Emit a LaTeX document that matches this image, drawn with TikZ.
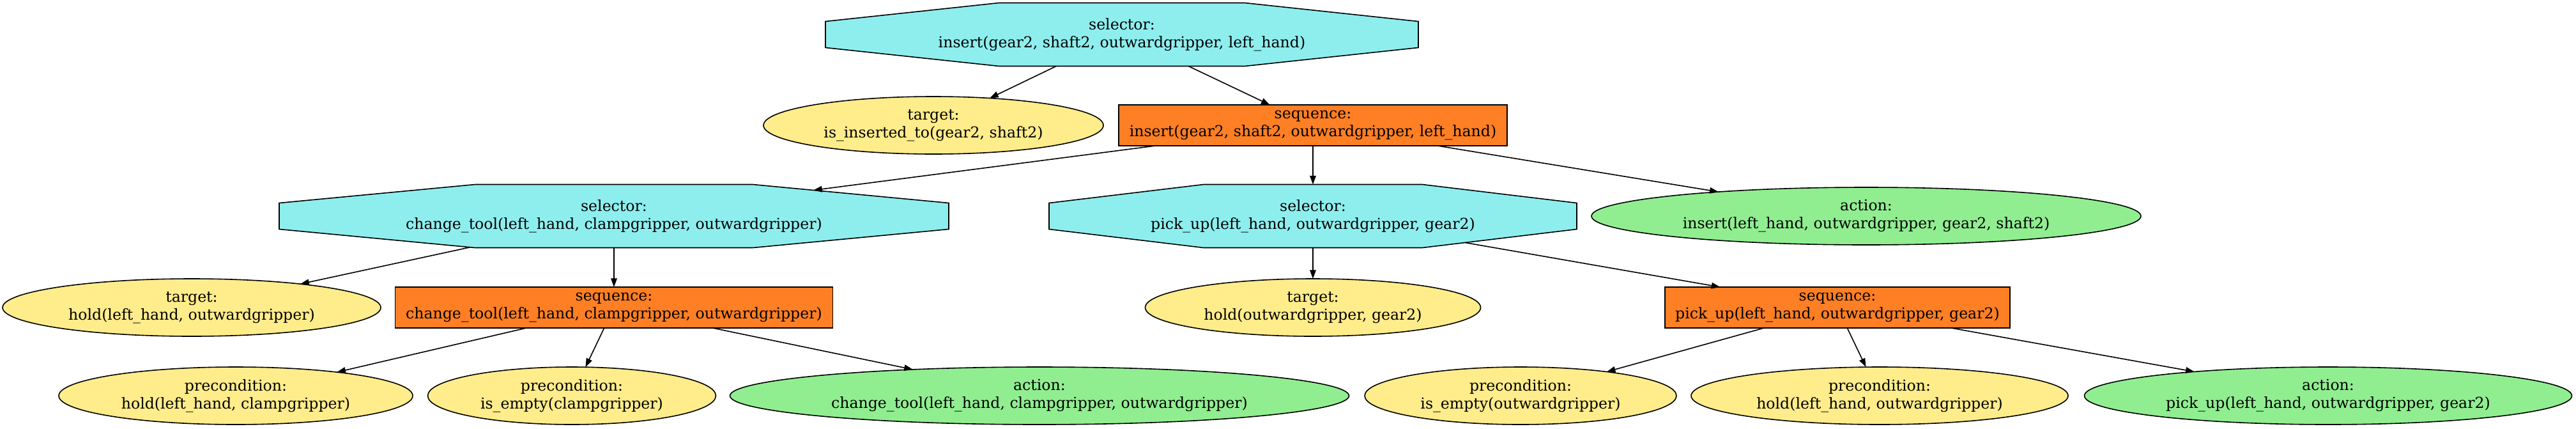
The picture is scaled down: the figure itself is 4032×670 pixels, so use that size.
\documentclass[tikz,border=0pt]{standalone}
\usepackage{fontspec}
\setmainfont{DejaVu Serif}
\usetikzlibrary{shapes.geometric,arrows.meta}
\definecolor{selcyan}{HTML}{8EEEEE}
\definecolor{seqorange}{HTML}{FF7F24}
\definecolor{condyellow}{HTML}{FFEC8B}
\definecolor{actgreen}{HTML}{90EE90}

% octagon stretched to the node box, corners cut at 0.2929 of width and height
\makeatletter
\pgfdeclareshape{stretched octagon}{%
  \inheritsavedanchors[from=rectangle]%
  \inheritanchor[from=rectangle]{center}%
  \inheritanchor[from=rectangle]{north}%
  \inheritanchor[from=rectangle]{south}%
  \inheritanchor[from=rectangle]{east}%
  \inheritanchor[from=rectangle]{west}%
  \inheritanchor[from=rectangle]{mid}%
  \inheritanchor[from=rectangle]{base}%
  \anchorborder{%
    \edef\oct@dx{\the\pgf@x}\edef\oct@dy{\the\pgf@y}%
    \southwest\edef\oct@swx{\the\pgf@x}\edef\oct@swy{\the\pgf@y}%
    \northeast\edef\oct@nex{\the\pgf@x}\edef\oct@ney{\the\pgf@y}%
    \pgfmathsetmacro\oct@a{(\oct@nex-\oct@swx)/2}%
    \pgfmathsetmacro\oct@b{(\oct@ney-\oct@swy)/2}%
    \pgfmathsetmacro\oct@ux{abs(\oct@dx)/\oct@a}%
    \pgfmathsetmacro\oct@uy{abs(\oct@dy)/\oct@b}%
    \pgfmathsetmacro\oct@s{max(max(\oct@ux,\oct@uy),(\oct@ux+\oct@uy)/1.41421,0.0001)}%
    \pgfmathsetmacro\oct@px{\oct@dx/\oct@s+(\oct@nex+\oct@swx)/2}%
    \pgfmathsetmacro\oct@py{\oct@dy/\oct@s+(\oct@ney+\oct@swy)/2}%
    \pgf@x=\oct@px pt\relax
    \pgf@y=\oct@py pt\relax
  }%
  \backgroundpath{%
    \southwest\pgf@xa=\pgf@x\pgf@ya=\pgf@y
    \northeast\pgf@xb=\pgf@x\pgf@yb=\pgf@y
    \pgf@xc=\pgf@xb\advance\pgf@xc by-\pgf@xa\pgf@xc=0.29289\pgf@xc
    \pgf@yc=\pgf@yb\advance\pgf@yc by-\pgf@ya\pgf@yc=0.29289\pgf@yc
    \edef\oct@xi{\the\pgf@xa}\edef\oct@xiv{\the\pgf@xb}%
    \edef\oct@yi{\the\pgf@ya}\edef\oct@yiv{\the\pgf@yb}%
    \advance\pgf@xa by\pgf@xc\edef\oct@xii{\the\pgf@xa}%
    \advance\pgf@xb by-\pgf@xc\edef\oct@xiii{\the\pgf@xb}%
    \advance\pgf@ya by\pgf@yc\edef\oct@yii{\the\pgf@ya}%
    \advance\pgf@yb by-\pgf@yc\edef\oct@yiii{\the\pgf@yb}%
    \pgfpathmoveto{\pgfqpoint{\oct@xi}{\oct@yii}}%
    \pgfpathlineto{\pgfqpoint{\oct@xi}{\oct@yiii}}%
    \pgfpathlineto{\pgfqpoint{\oct@xii}{\oct@yiv}}%
    \pgfpathlineto{\pgfqpoint{\oct@xiii}{\oct@yiv}}%
    \pgfpathlineto{\pgfqpoint{\oct@xiv}{\oct@yiii}}%
    \pgfpathlineto{\pgfqpoint{\oct@xiv}{\oct@yii}}%
    \pgfpathlineto{\pgfqpoint{\oct@xiii}{\oct@yi}}%
    \pgfpathlineto{\pgfqpoint{\oct@xii}{\oct@yi}}%
    \pgfpathclose
  }%
}
\makeatother

\tikzset{
    treenode/.style={draw=black,line width=0.8pt,inner sep=0pt,outer sep=0pt,align=center,font=\fontsize{11.8}{14}\selectfont},
    selector/.style={treenode,stretched octagon,fill=selcyan,minimum height=49.5pt},
    sequence/.style={treenode,rectangle,fill=seqorange,minimum height=32pt},
    condition/.style={treenode,ellipse,fill=condyellow,minimum height=45pt},
    action/.style={treenode,ellipse,fill=actgreen,minimum height=45pt},
    directed/.style={line width=0.8pt,arrows={-Triangle[length=6.8pt,width=4.8pt]}},
    }

\begin{document}
\begin{tikzpicture}[x=0.5pt,y=-0.5pt]
    \useasboundingbox (0,0) rectangle (4032,670);

		\node[selector,minimum width=464pt] (s1) at (1756,54) {selector:\\insert(gear2, shaft2, outwardgripper, left\_hand)};

		\node[condition,minimum width=266pt] (t1) at (1461,196) {target:\\is\_inserted\_to(gear2, shaft2)};
		\node[sequence,minimum width=304pt] (q1) at (2055,196) {sequence:\\insert(gear2, shaft2, outwardgripper, left\_hand)};

		\node[selector,minimum width=524pt] (s2) at (961,338) {selector:\\change\_tool(left\_hand, clampgripper, outwardgripper)};
		\node[selector,minimum width=413pt] (s3) at (2055,338) {selector:\\pick\_up(left\_hand, outwardgripper, gear2)};
		\node[action,minimum width=430pt] (a1) at (2921,338) {action:\\insert(left\_hand, outwardgripper, gear2, shaft2)};

		\node[condition,minimum width=296pt] (t2) at (300,481) {target:\\hold(left\_hand, outwardgripper)};
		\node[sequence,minimum width=342.5pt] (q2) at (961,481) {sequence:\\change\_tool(left\_hand, clampgripper, outwardgripper)};
		\node[condition,minimum width=262.5pt] (t3) at (2055,481) {target:\\hold(outwardgripper, gear2)};
		\node[sequence,minimum width=270pt] (q3) at (2876,481) {sequence:\\pick\_up(left\_hand, outwardgripper, gear2)};

		\node[condition,minimum width=277pt] (p1) at (369,619) {precondition:\\hold(left\_hand, clampgripper)};
		\node[condition,minimum width=225.5pt] (p2) at (895,619) {precondition:\\is\_empty(clampgripper)};
		\node[action,minimum width=484.5pt] (a2) at (1627,619) {action:\\change\_tool(left\_hand, clampgripper, outwardgripper)};
		\node[condition,minimum width=244pt] (p3) at (2380,619) {precondition:\\is\_empty(outwardgripper)};
		\node[condition,minimum width=295pt] (p4) at (2942,619) {precondition:\\hold(left\_hand, outwardgripper)};
		\node[action,minimum width=381.5pt] (a3) at (3644,619) {action:\\pick\_up(left\_hand, outwardgripper, gear2)};

	\draw[directed] (s1) to (t1);
	\draw[directed] (s1) to (q1);

	\draw[directed] (q1) to (s2);
	\draw[directed] (q1) to (s3);
	\draw[directed] (q1) to (a1);

	\draw[directed] (s2) to (t2);
	\draw[directed] (s2) to (q2);

	\draw[directed] (s3) to (t3);
	\draw[directed] (s3) to (q3);

	\draw[directed] (q2) to (p1);
	\draw[directed] (q2) to (p2);
	\draw[directed] (q2) to (a2);

	\draw[directed] (q3) to (p3);
	\draw[directed] (q3) to (p4);
	\draw[directed] (q3) to (a3);
    \end{tikzpicture}
\end{document}
